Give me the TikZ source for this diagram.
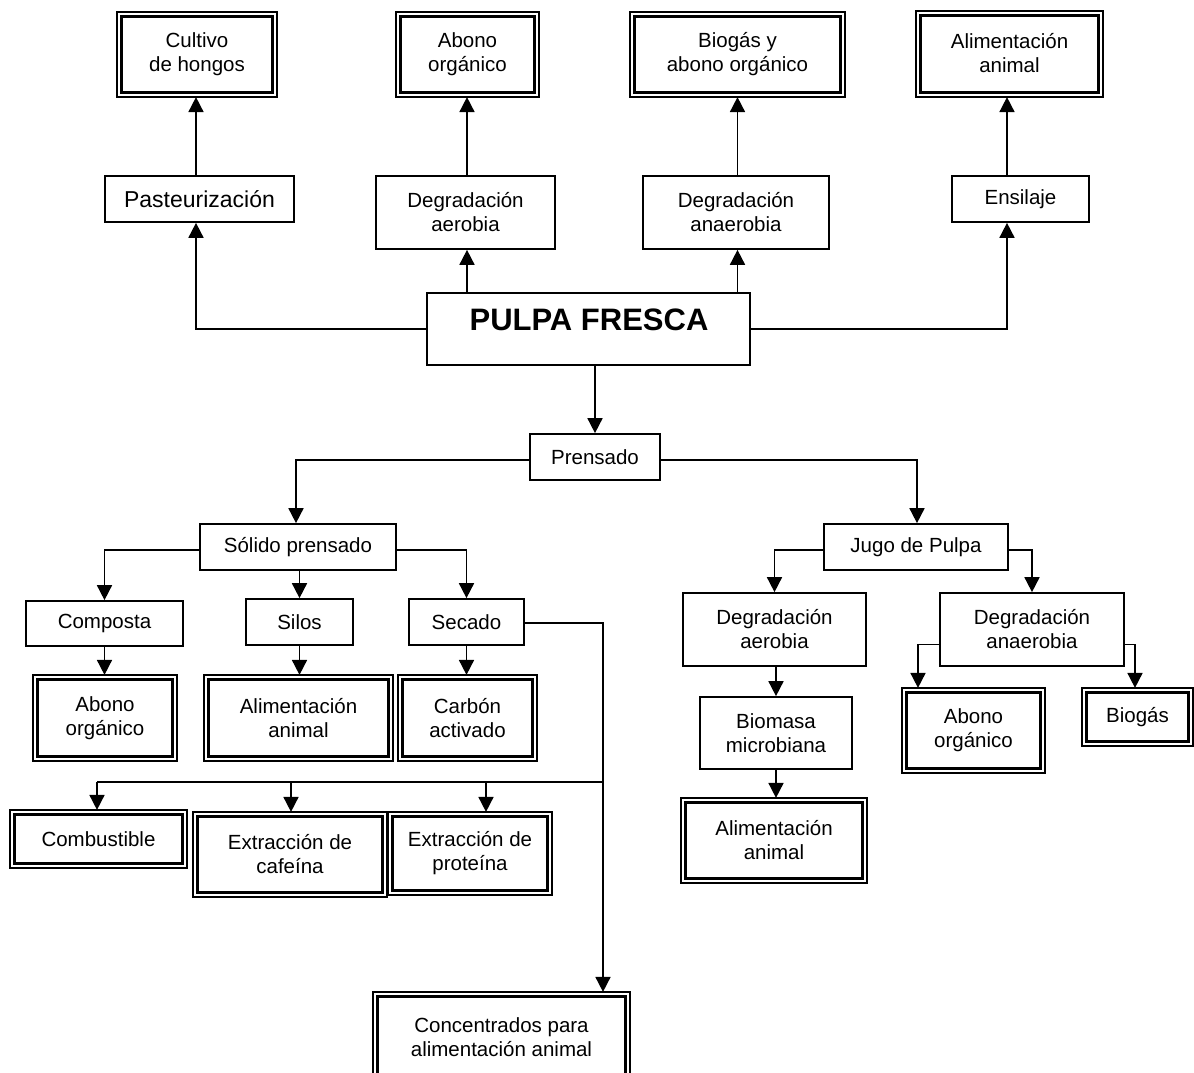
\documentclass[tikz,border=0pt]{standalone}
\usepackage{fontspec}
\setmainfont{Liberation Sans}
\usetikzlibrary{arrows.meta}

\begin{document}
\begin{tikzpicture}[x=1pt, y=-1pt,
  base/.style={font=\fontsize{20.5}{24}\selectfont, align=center, inner sep=0pt},
  sbox/.style={base, draw, line width=1.7pt},
  dbox/.style={base, draw, line width=2.4pt, outer sep=4.6pt},
  conn/.style={line width=1.7pt},
  arr/.style={line width=1.7pt, -{Triangle[length=15pt,width=15pt]}},
]
\fill[white] (0,0) rectangle (1194,1073);
\useasboundingbox (0,0) rectangle (1194,1073);

% ---------- top products ----------
\node[dbox, minimum width=151, minimum height=76] (cultivo) at (197,54.5) {Cultivo\\de hongos};
\node[dbox, minimum width=134, minimum height=76] (abono1) at (467.5,54.5) {Abono\\orgánico};
\node[dbox, minimum width=206, minimum height=76] (biogas1) at (737.5,54.5) {Biogás y\\abono orgánico};
\node[dbox, minimum width=178, minimum height=77] (alim1) at (1009.5,54) {\raisebox{2pt}{Alimentación}\\\raisebox{2pt}{animal}};

% ---------- treatments of fresh pulp ----------
\node[sbox, minimum width=189, minimum height=46, font=\fontsize{23}{26}\selectfont] (past) at (199.5,199) {Pasteurización};
\node[sbox, minimum width=179, minimum height=73] (daer1) at (465.5,212.5) {Degradación\\aerobia};
\node[sbox, minimum width=186, minimum height=73] (danaer1) at (736,212.5) {Degradación\\anaerobia};
\node[sbox, minimum width=137, minimum height=46] (ensil) at (1020.5,199) {Ensilaje};

% ---------- central node ----------
\node[draw, line width=1.7pt, minimum width=323, minimum height=72, inner sep=0pt] (pulpa) at (588.5,329) {};
\node[inner sep=0pt, font=\fontsize{31}{34}\selectfont\bfseries] (pulpatxt) at (589,320) {PULPA FRESCA};

\node[sbox, minimum width=130, minimum height=46] (prensado) at (595,457) {Prensado};

% ---------- pressed solid branch ----------
\node[sbox, minimum width=196, minimum height=46] (solido) at (298,547) {Sólido prensado};
\node[sbox, minimum width=157, minimum height=45] (compost) at (104.5,623.5) {Composta};
\node[sbox, minimum width=107, minimum height=46] (silos) at (299.5,622) {Silos};
\node[sbox, minimum width=115, minimum height=46] (secado) at (466.5,622) {Secado};

\node[dbox, minimum width=135, minimum height=77] (abono2) at (105,718) {Abono\\orgánico};
\node[dbox, minimum width=180, minimum height=77] (alim2) at (298.5,718) {Alimentación\\animal};
\node[dbox, minimum width=130, minimum height=77] (carbon) at (467.5,718) {Carbón\\activado};

\node[dbox, minimum width=168, minimum height=49] (combust) at (98.5,839) {Combustible};
\node[dbox, minimum width=185, minimum height=76] (cafeina) at (290,854.5) {Extracción de\\cafeína};
\node[dbox, minimum width=155, minimum height=74] (proteina) at (470,853.5) {Extracción de\\proteína};
\node[dbox, minimum width=248, minimum height=81] (concent) at (501.5,1037) {Concentrados para\\alimentación animal};

% ---------- juice branch ----------
\node[sbox, minimum width=184, minimum height=46] (jugo) at (916,547) {Jugo de Pulpa};
\node[sbox, minimum width=183, minimum height=73] (daer2) at (774.5,629.5) {Degradación\\aerobia};
\node[sbox, minimum width=184, minimum height=73] (danaer2) at (1032,629.5) {Degradación\\anaerobia};
\node[sbox, minimum width=152, minimum height=72] (biomasa) at (776,733) {Biomasa\\microbiana};
\node[dbox, minimum width=177, minimum height=76] (alim3) at (774,840.5) {Alimentación\\animal};
\node[dbox, minimum width=134, minimum height=76] (abono3) at (973.5,730.5) {Abono\\orgánico};
\node[dbox, minimum width=102, minimum height=49] (biogas2) at (1137.5,717) {Biogás};

% thin outer frame of the final products
\foreach \n in {cultivo,abono1,biogas1,alim1,abono2,alim2,carbon,combust,cafeina,proteina,concent,alim3,abono3,biogas2}
  \draw[line width=1.3pt] (\n.south west) rectangle (\n.north east);

% ---------- connectors: upper half ----------
\draw[arr] (pulpa.west) -| ([xshift=-3.5pt]past.south);
\draw[arr] (pulpa.east) -| ([xshift=-13.5pt]ensil.south);
\draw[arr] ([xshift=1.5pt]pulpa.north -| daer1.south) -- ([xshift=1.5pt]daer1.south);
\draw[arr] ([xshift=1.5pt]pulpa.north -| danaer1.south) -- ([xshift=1.5pt]danaer1.south);

\draw[arr] ([xshift=-3.5pt]past.north) -- ([xshift=-3.5pt]past.north |- cultivo.south);
\draw[arr] ([xshift=1.5pt]daer1.north) -- ([xshift=1.5pt]daer1.north |- abono1.south);
\draw[arr] ([xshift=1.5pt]danaer1.north) -- ([xshift=1.5pt]danaer1.north |- biogas1.south);
\draw[arr] ([xshift=-13.5pt]ensil.north) -- ([xshift=-13.5pt]ensil.north |- alim1.south);

\draw[arr] (prensado.north |- pulpa.south) -- (prensado.north);

% ---------- connectors: pressed solid ----------
\draw[arr] ([yshift=-3pt]prensado.west) -| ([xshift=-2pt]solido.north);
\draw[arr] ([yshift=-3pt]prensado.east) -| ([xshift=1pt]jugo.north);

\draw[arr] ([yshift=-3pt]solido.west) -| (compost.north);
\draw[arr] (silos.north |- solido.south) -- (silos.north);
\draw[arr] ([yshift=-3pt]solido.east) -| (secado.north);

\draw[arr] (compost.south) -- (compost.south |- abono2.north);
\draw[arr] (silos.south) -- (silos.south |- alim2.north);
\draw[arr] (secado.south) -- (secado.south |- carbon.north);

\coordinate (trunk) at (603,782);
\coordinate (b1) at (97,782);
\coordinate (b2) at (291,782);
\coordinate (b3) at (486,782);
\draw[arr] ([yshift=-1pt]secado.east) -| (trunk |- concent.north);
\draw[conn] (trunk) -- (b1);
\draw[arr] (b1) -- (b1 |- combust.north);
\draw[arr] (b2) -- (b2 |- cafeina.north);
\draw[arr] (b3) -- (b3 |- proteina.north);

% ---------- connectors: juice ----------
\draw[arr] ([yshift=-3pt]jugo.west) -| (daer2.north);
\draw[arr] ([yshift=-3pt]jugo.east) -| (danaer2.north);
\draw[arr] (biomasa.north |- daer2.south) -- (biomasa.north);
\draw[arr] (biomasa.south) -- (biomasa.south |- alim3.north);
\draw[arr] ([yshift=-15pt]danaer2.west) -| ([xshift=-55.5pt]abono3.north);
\draw[arr] ([yshift=-15pt]danaer2.east) -| ([xshift=-2.5pt]biogas2.north);
\end{tikzpicture}
\end{document}
